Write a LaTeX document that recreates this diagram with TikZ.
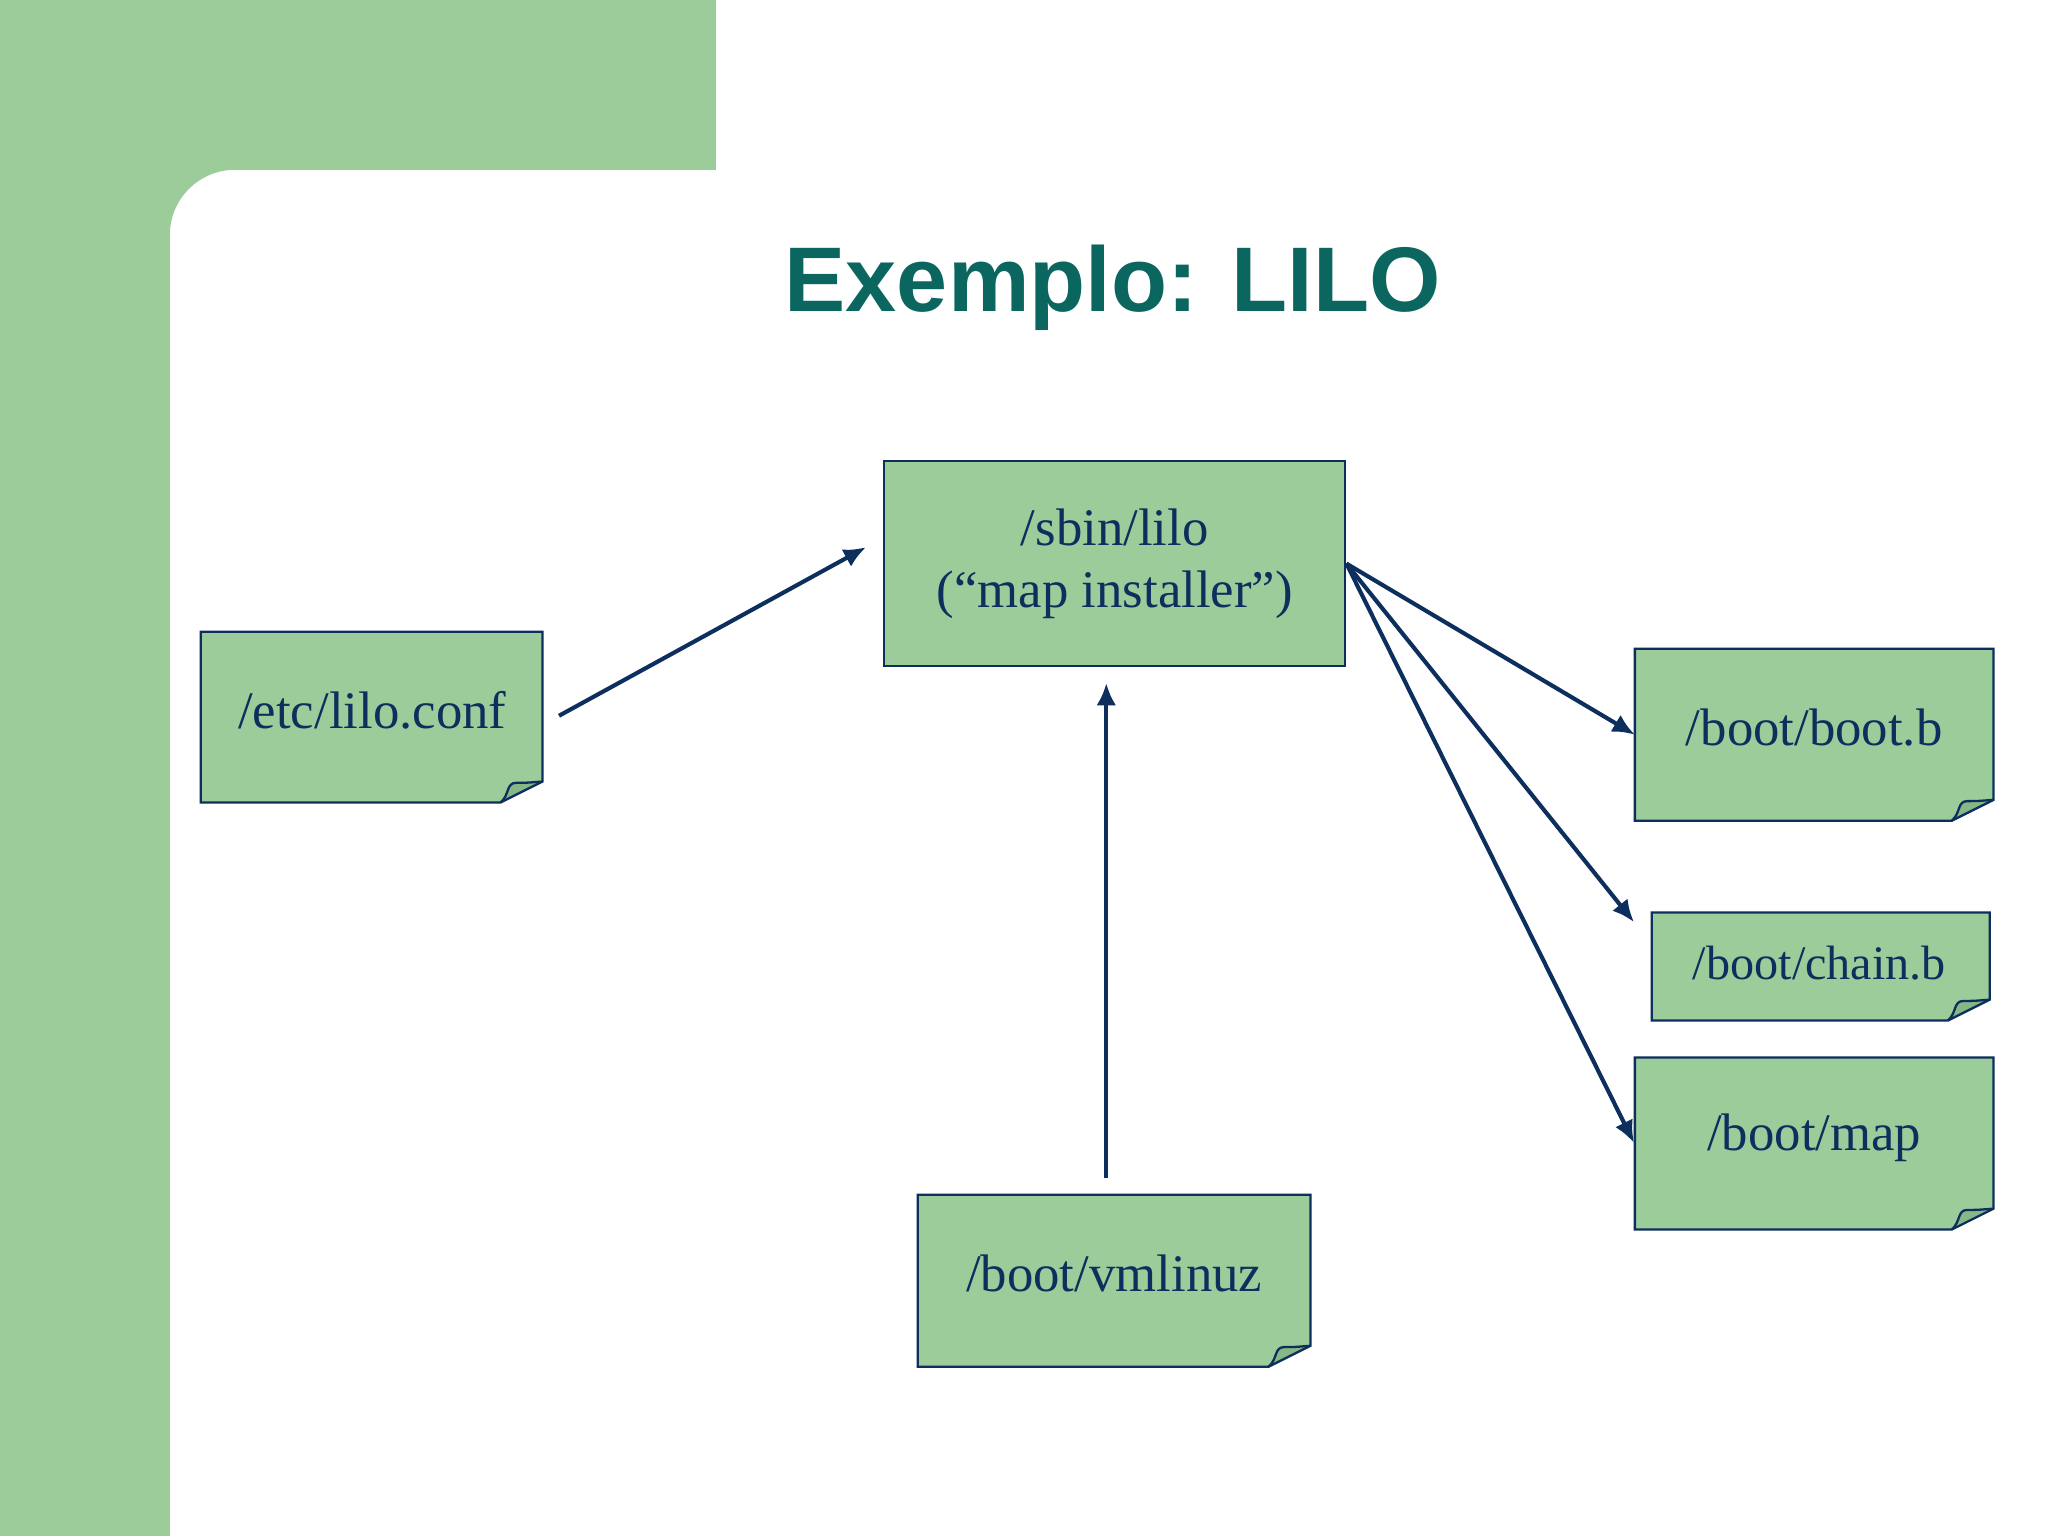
\documentclass[tikz,border=0pt]{standalone}
\usepackage{fontspec}
\setmainfont{Liberation Serif}
\newfontfamily\titlefont{Liberation Sans}
\usetikzlibrary{arrows.meta,calc}
\definecolor{bggreen}{HTML}{9BCC9A}
\definecolor{navy}{HTML}{0D2F5E}
\definecolor{teal}{HTML}{0B6660}
\definecolor{curl}{HTML}{86B886}
\tikzset{
  box/.style={draw=navy,fill=bggreen,line width=1pt,inner sep=0pt,text=navy,align=center,font=\fontsize{23}{27}\selectfont},
  doc/.style={draw=none,fill=none,inner sep=0pt,text=navy,align=center,font=\fontsize{23}{27}\selectfont},
  arr/.style={draw=navy,line width=1.8pt,-{Latex[length=0.34cm,width=0.3cm]}}
}
\newcommand\docshape[1]{%
  \fill[bggreen] (#1.north west)--(#1.north east)--([yshift=0.32cm]#1.south east)--([xshift=-0.64cm]#1.south east)--(#1.south west)--cycle;
  \draw[navy,line width=1pt,fill=curl] ([xshift=-0.64cm]#1.south east) .. controls ([xshift=-0.5cm,yshift=0.12cm]#1.south east) and ([xshift=-0.56cm,yshift=0.3cm]#1.south east) .. ([xshift=-0.4cm,yshift=0.3cm]#1.south east) .. controls ([xshift=-0.25cm,yshift=0.3cm]#1.south east) .. ([yshift=0.32cm]#1.south east);
  \draw[navy,line width=1pt] (#1.north west)--(#1.north east)--([yshift=0.32cm]#1.south east)--([xshift=-0.64cm]#1.south east)--(#1.south west)--cycle;
}
\begin{document}
\begin{tikzpicture}[x=0.02cm,y=-0.02cm]
\useasboundingbox (0,0) rectangle (1568,1176);
\fill[white] (0,0) rectangle (1568,1176);
\fill[bggreen] (0,0)--(548,0)--(548,130)--(180,130) arc[start angle=90,end angle=180,radius=1cm]--(130,1176)--(0,1176)--cycle;
\node[text=teal,font=\titlefont\bfseries\fontsize{40}{48}\selectfont] (title) at (852,220) {Exemplo: LILO};
\node[box,minimum width=7.06cm,minimum height=3.14cm] (lilo) at (853.5,431.5) {/sbin/lilo\\(“map installer”)};
\node[doc,minimum width=5.22cm,minimum height=2.6cm] (etc) at (284.5,549) {};
\node[doc,minimum width=5.48cm,minimum height=2.62cm] (bootb) at (1389,562.5) {};
\node[doc,minimum width=5.16cm,minimum height=1.64cm] (chain) at (1394,740) {};
\node[doc,minimum width=5.48cm,minimum height=2.62cm] (map) at (1389,875.5) {};
\node[doc,minimum width=6cm,minimum height=2.62cm] (vm) at (853,980.5) {};
\docshape{etc}\docshape{bootb}\docshape{chain}\docshape{map}\docshape{vm}
\node[doc] at (285,544) {/etc/lilo.conf};
\node[doc] at (1389,557) {/boot/boot.b};
\node[doc,font=\fontsize{21}{25}\selectfont] at (1393,737) {/boot/chain.b};
\node[doc] at (1389,871) {/boot/map};
\node[doc] at (853,975) {/boot/vmlinuz};
\coordinate (e1) at (428,548); \coordinate (e2) at (663,419);
\coordinate (v1) at (847,902); \coordinate (v2) at (847,523);
\coordinate (c2) at (1251,706); \coordinate (m2) at (1251,875);
\draw[arr] (e1)--(e2);
\draw[arr] (v1)--(v2);
\draw[arr] (lilo.east)--(bootb.west);
\draw[arr] (lilo.east)--(c2);
\draw[arr] (lilo.east)--(m2);
\end{tikzpicture}
\end{document}
